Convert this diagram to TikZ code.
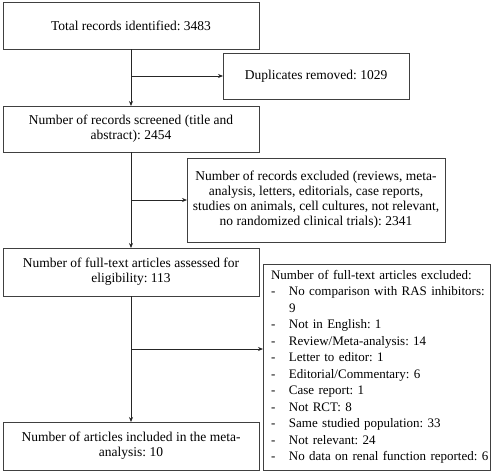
\documentclass[tikz,border=0pt]{standalone}
\usepackage{fontspec}
\setmainfont{Liberation Serif}
\usetikzlibrary{arrows.meta}
\frenchspacing
\newcommand{\itm}[1]{\mbox{\hspace*{8pt}\makebox[18pt][l]{-}#1}}
\begin{document}
\begin{tikzpicture}[x=1pt,y=1pt,
  box/.style={draw=black!75, line width=0.8pt, inner sep=0pt, outer sep=0pt,
    anchor=north west, align=center,
    font=\fontsize{13.5}{15.1}\selectfont},
  arr/.style={draw=black!85, line width=0.8pt, -{Stealth[length=5pt,width=4pt]}},
  ln/.style={draw=black!85, line width=0.8pt}]
\useasboundingbox (0,0) rectangle (500,-471);
\node[box, minimum width=256, minimum height=47] (b1) at (3,-2) {Total records identified: 3483};
\node[box, minimum width=186, minimum height=46] (dup) at (223,-53) {Duplicates removed: 1029};
\node[box, minimum width=256, minimum height=46] (b2) at (3,-106) {Number of records screened (title and\\abstract): 2454};
\node[box, minimum width=258, minimum height=84] (ex1) at (187,-158) {Number of records excluded (reviews, meta-\\analysis, letters, editorials, case reports,\\studies on animals, cell cultures, not relevant,\\no randomized clinical trials): 2341};
\node[box, minimum width=256, minimum height=48] (b3) at (3,-248) {Number of full-text articles assessed for\\eligibility: 113};
\node[box, minimum width=227, minimum height=206, align=left, text width=227,
  font=\fontsize{13}{16.5}\selectfont] (ex2) at (263,-264) {%
\mbox{\hspace*{8pt}Number of full-text articles excluded:}\\
\itm{No comparison with RAS inhibitors:}\\
\mbox{\hspace*{26pt}9}\\
\itm{Not in English: 1}\\
\itm{Review/Meta-analysis: 14}\\
\itm{Letter to editor: 1}\\
\itm{Editorial/Commentary: 6}\\
\itm{Case report: 1}\\
\itm{Not RCT: 8}\\
\itm{Same studied population: 33}\\
\itm{Not relevant: 24}\\
\itm{No data on renal function reported: 6}};
\node[box, minimum width=256, minimum height=48] (b4) at (3,-422) {Number of articles included in the meta-\\analysis: 10};
% connectors
\draw[arr] (b1.south) -- (b2.north);
\coordinate (j1) at (b1.south |- dup.west);
\draw[arr] (j1) -- (dup.west);
\draw[arr] (b2.south) -- (b3.north);
\coordinate (j2) at (b2.south |- ex1.west);
\draw[arr] (j2) -- (ex1.west);
\draw[arr] (b3.south) -- (b4.north);
\coordinate (j3) at ([yshift=-53pt]b3.south);
\draw[arr] (j3) -- (j3 -| ex2.west);
\end{tikzpicture}
\end{document}
